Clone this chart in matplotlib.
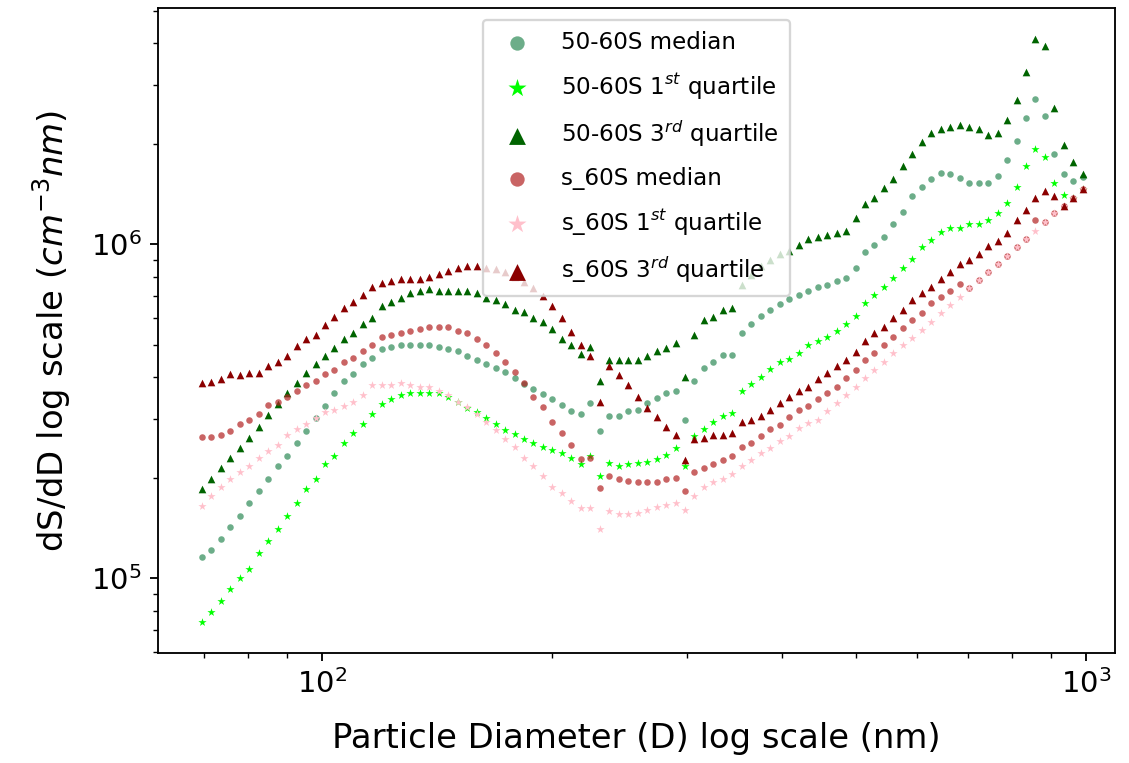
import matplotlib
matplotlib.use("Agg")
import matplotlib.pyplot as plt

# particle diameters (nm), shared by every series
diameter = [69.6, 71.6, 73.7, 75.8, 78.0, 80.3, 82.6, 85.0, 87.5, 90.0,
            92.6, 95.3, 98.1, 100.9, 103.8, 106.8, 109.9, 113.1, 116.4, 119.8,
            123.2, 126.8, 130.5, 134.3, 138.2, 142.2, 146.3, 150.5, 154.9, 159.4,
            164.0, 168.7, 173.6, 178.6, 183.8, 189.1, 194.6, 200.2, 206.0, 212.0,
            218.1, 224.4, 230.9, 237.6, 244.5, 251.6, 258.9, 266.4, 274.1, 282.0,
            290.2, 298.6, 307.2, 316.1, 325.3, 334.7, 344.4, 354.4, 364.6, 375.2,
            386.0, 397.2, 408.7, 420.5, 432.7, 445.2, 458.1, 471.4, 485.0, 499.1,
            513.5, 528.4, 543.7, 559.4, 575.6, 592.3, 609.4, 627.1, 645.2, 663.9,
            683.1, 702.9, 723.3, 744.2, 765.8, 788.0, 810.8, 834.3, 858.5, 883.3,
            908.9, 935.2, 962.3, 990.2]

# 50-60S
median_5060 = [1.16e5, 1.22e5, 1.31e5, 1.43e5, 1.54e5, 1.68e5, 1.83e5, 1.99e5, 2.17e5, 2.33e5,
               2.54e5, 2.77e5, 3.02e5, 3.29e5, 3.59e5, 3.91e5, 4.08e5, 4.38e5, 4.58e5, 4.85e5,
               4.92e5, 4.99e5, 4.99e5, 4.99e5, 4.99e5, 4.92e5, 4.85e5, 4.78e5, 4.64e5, 4.52e5,
               4.38e5, 4.26e5, 4.14e5, 3.97e5, 3.83e5, 3.69e5, 3.56e5, 3.45e5, 3.30e5, 3.16e5,
               3.11e5, 3.34e5, 2.77e5, 3.06e5, 3.06e5, 3.16e5, 3.19e5, 3.35e5, 3.46e5, 3.58e5,
               3.64e5, 2.98e5, 3.91e5, 4.26e5, 4.45e5, 4.65e5, 4.65e5, 5.44e5, 5.76e5, 6.10e5,
               6.36e5, 6.65e5, 6.84e5, 7.06e5, 7.24e5, 7.47e5, 7.58e5, 7.79e5, 7.91e5, 8.49e5,
               9.51e5, 9.94e5, 1.05e6, 1.15e6, 1.25e6, 1.40e6, 1.49e6, 1.57e6, 1.64e6, 1.62e6,
               1.58e6, 1.53e6, 1.53e6, 1.53e6, 1.60e6, 1.79e6, 2.04e6, 2.39e6, 2.72e6, 2.42e6,
               1.87e6, 1.62e6, 1.55e6, 1.59e6]
q1_5060 = [7.40e4, 7.94e4, 8.53e4, 9.29e4, 1.00e5, 1.07e5, 1.19e5, 1.29e5, 1.41e5, 1.54e5,
           1.68e5, 1.85e5, 1.99e5, 2.20e5, 2.33e5, 2.54e5, 2.73e5, 2.89e5, 3.11e5, 3.33e5,
           3.44e5, 3.53e5, 3.58e5, 3.58e5, 3.58e5, 3.58e5, 3.48e5, 3.38e5, 3.24e5, 3.15e5,
           3.03e5, 2.90e5, 2.78e5, 2.70e5, 2.62e5, 2.55e5, 2.48e5, 2.43e5, 2.37e5, 2.30e5,
           2.20e5, 2.33e5, 2.02e5, 2.21e5, 2.17e5, 2.20e5, 2.21e5, 2.23e5, 2.28e5, 2.34e5,
           2.45e5, 2.17e5, 2.67e5, 2.81e5, 2.94e5, 3.07e5, 3.12e5, 3.65e5, 3.81e5, 4.02e5,
           4.24e5, 4.45e5, 4.53e5, 4.72e5, 5.01e5, 5.14e5, 5.29e5, 5.52e5, 5.78e5, 6.10e5,
           6.66e5, 7.06e5, 7.47e5, 7.92e5, 8.48e5, 9.02e5, 9.80e5, 1.03e6, 1.09e6, 1.12e6,
           1.12e6, 1.15e6, 1.15e6, 1.18e6, 1.24e6, 1.33e6, 1.49e6, 1.72e6, 1.93e6, 1.82e6,
           1.53e6, 1.41e6, 1.38e6, 1.46e6]
q3_5060 = [1.85e5, 1.98e5, 2.14e5, 2.29e5, 2.46e5, 2.64e5, 2.84e5, 3.09e5, 3.33e5, 3.58e5,
           3.85e5, 4.13e5, 4.38e5, 4.64e5, 4.91e5, 5.20e5, 5.44e5, 5.76e5, 6.01e5, 6.54e5,
           6.74e5, 6.93e5, 7.14e5, 7.25e5, 7.34e5, 7.25e5, 7.25e5, 7.25e5, 7.25e5, 7.14e5,
           6.93e5, 6.82e5, 6.63e5, 6.36e5, 6.26e5, 6.01e5, 5.84e5, 5.59e5, 5.21e5, 4.98e5,
           4.70e5, 4.92e5, 3.90e5, 4.51e5, 4.51e5, 4.51e5, 4.51e5, 4.63e5, 4.80e5, 4.91e5,
           5.06e5, 4.01e5, 5.35e5, 5.92e5, 6.08e5, 6.34e5, 6.45e5, 7.54e5, 8.10e5, 8.62e5,
           8.98e5, 9.36e5, 9.52e5, 9.93e5, 1.04e6, 1.05e6, 1.07e6, 1.08e6, 1.10e6, 1.20e6,
           1.32e6, 1.38e6, 1.47e6, 1.57e6, 1.72e6, 1.87e6, 2.03e6, 2.15e6, 2.22e6, 2.25e6,
           2.28e6, 2.25e6, 2.22e6, 2.13e6, 2.15e6, 2.36e6, 2.71e6, 3.27e6, 4.11e6, 3.93e6,
           2.56e6, 1.98e6, 1.76e6, 1.62e6]

# s_60S
median_s60 = [2.65e5, 2.65e5, 2.69e5, 2.77e5, 2.89e5, 2.98e5, 3.11e5, 3.30e5, 3.38e5, 3.48e5,
              3.64e5, 3.79e5, 3.91e5, 4.08e5, 4.21e5, 4.44e5, 4.58e5, 4.78e5, 4.99e5, 5.28e5,
              5.35e5, 5.44e5, 5.52e5, 5.59e5, 5.67e5, 5.67e5, 5.67e5, 5.52e5, 5.44e5, 5.21e5,
              4.99e5, 4.72e5, 4.45e5, 4.15e5, 3.85e5, 3.50e5, 3.25e5, 2.93e5, 2.73e5, 2.51e5,
              2.27e5, 2.30e5, 1.86e5, 2.02e5, 1.99e5, 1.96e5, 1.94e5, 1.94e5, 1.95e5, 1.98e5,
              2.00e5, 1.83e5, 2.08e5, 2.14e5, 2.20e5, 2.26e5, 2.33e5, 2.48e5, 2.54e5, 2.66e5,
              2.80e5, 2.88e5, 3.05e5, 3.20e5, 3.29e5, 3.44e5, 3.58e5, 3.75e5, 3.97e5, 4.21e5,
              4.51e5, 4.72e5, 5.00e5, 5.29e5, 5.61e5, 5.94e5, 6.25e5, 6.66e5, 6.97e5, 7.26e5,
              7.59e5, 7.39e5, 7.82e5, 8.25e5, 8.74e5, 9.25e5, 9.80e5, 1.04e6, 1.18e6, 1.17e6,
              1.24e6, 1.30e6, 1.38e6, 1.46e6]
q1_s60 = [1.65e5, 1.77e5, 1.88e5, 1.99e5, 2.08e5, 2.17e5, 2.30e5, 2.40e5, 2.50e5, 2.69e5,
          2.81e5, 2.89e5, 3.02e5, 3.15e5, 3.19e5, 3.29e5, 3.38e5, 3.53e5, 3.79e5, 3.79e5,
          3.79e5, 3.85e5, 3.79e5, 3.74e5, 3.74e5, 3.64e5, 3.53e5, 3.38e5, 3.27e5, 3.11e5,
          2.94e5, 2.78e5, 2.62e5, 2.47e5, 2.30e5, 2.17e5, 2.02e5, 1.88e5, 1.80e5, 1.70e5,
          1.63e5, 1.63e5, 1.41e5, 1.59e5, 1.56e5, 1.56e5, 1.57e5, 1.60e5, 1.64e5, 1.66e5,
          1.68e5, 1.60e5, 1.77e5, 1.88e5, 1.94e5, 1.99e5, 2.05e5, 2.17e5, 2.26e5, 2.37e5,
          2.45e5, 2.58e5, 2.67e5, 2.82e5, 2.92e5, 2.98e5, 3.16e5, 3.34e5, 3.54e5, 3.75e5,
          3.97e5, 4.21e5, 4.45e5, 4.72e5, 5.00e5, 5.23e5, 5.54e5, 5.87e5, 6.22e5, 6.58e5,
          6.97e5, 7.39e5, 7.82e5, 8.25e5, 8.74e5, 9.25e5, 9.80e5, 1.04e6, 1.10e6, 1.17e6,
          1.24e6, 1.30e6, 1.38e6, 1.46e6]
q3_s60 = [3.84e5, 3.88e5, 3.96e5, 4.08e5, 4.07e5, 4.12e5, 4.13e5, 4.32e5, 4.44e5, 4.63e5,
          4.97e5, 5.20e5, 5.34e5, 5.74e5, 6.07e5, 6.44e5, 6.74e5, 7.06e5, 7.44e5, 7.68e5,
          7.77e5, 7.88e5, 7.88e5, 7.88e5, 8.00e5, 8.14e5, 8.34e5, 8.48e5, 8.62e5, 8.62e5,
          8.48e5, 8.41e5, 8.27e5, 8.01e5, 7.74e5, 7.40e5, 7.01e5, 6.54e5, 6.01e5, 5.45e5,
          4.98e5, 4.63e5, 3.37e5, 4.31e5, 4.07e5, 3.79e5, 3.48e5, 3.24e5, 3.05e5, 2.84e5,
          2.69e5, 2.26e5, 2.61e5, 2.64e5, 2.68e5, 2.68e5, 2.72e5, 2.93e5, 2.97e5, 3.06e5,
          3.20e5, 3.34e5, 3.48e5, 3.63e5, 3.74e5, 3.95e5, 4.13e5, 4.31e5, 4.51e5, 4.77e5,
          5.14e5, 5.42e5, 5.67e5, 6.01e5, 6.36e5, 6.83e5, 7.14e5, 7.46e5, 7.90e5, 8.24e5,
          8.72e5, 8.98e5, 9.36e5, 9.91e5, 1.02e6, 1.08e6, 1.18e6, 1.27e6, 1.38e6, 1.44e6,
          1.40e6, 1.30e6, 1.38e6, 1.46e6]

fig = plt.figure(figsize=(1129 / 166, 763 / 166), dpi=166)
ax = fig.add_axes([0.140, 0.1442, 0.8476, 0.8453])

ax.scatter(diameter, median_5060, s=8, marker="o", color="seagreen", alpha=0.7, linewidths=0, label="50-60S median")
ax.scatter(diameter, q1_5060, s=14, marker="*", color="lime", linewidths=0, label="50-60S 1$^{st}$ quartile")
ax.scatter(diameter, q3_5060, s=11, marker="^", color="darkgreen", linewidths=0, label="50-60S 3$^{rd}$ quartile")
ax.scatter(diameter, median_s60, s=8, marker="o", color="firebrick", alpha=0.7, linewidths=0, label="s_60S median")
ax.scatter(diameter, q1_s60, s=14, marker="*", color="pink", linewidths=0, label="s_60S 1$^{st}$ quartile")
ax.scatter(diameter, q3_s60, s=11, marker="^", color="darkred", linewidths=0, label="s_60S 3$^{rd}$ quartile")

ax.set_xscale("log")
ax.set_yscale("log")
ax.set_xlim(61.0, 1091)
ax.set_ylim(5.98e4, 5.10e6)
ax.tick_params(labelsize=12.6)
ax.set_xlabel("Particle Diameter (D) log scale (nm)", fontsize=14.7, labelpad=10)
ax.set_ylabel("dS/dD log scale ($cm^{-3}nm$)", fontsize=14.7, labelpad=8)
ax.legend(loc="upper center", fontsize=10, markerscale=2.2, labelspacing=0.75,
          borderpad=0.5, handletextpad=0.9)

fig.savefig("out.png", dpi=166)
